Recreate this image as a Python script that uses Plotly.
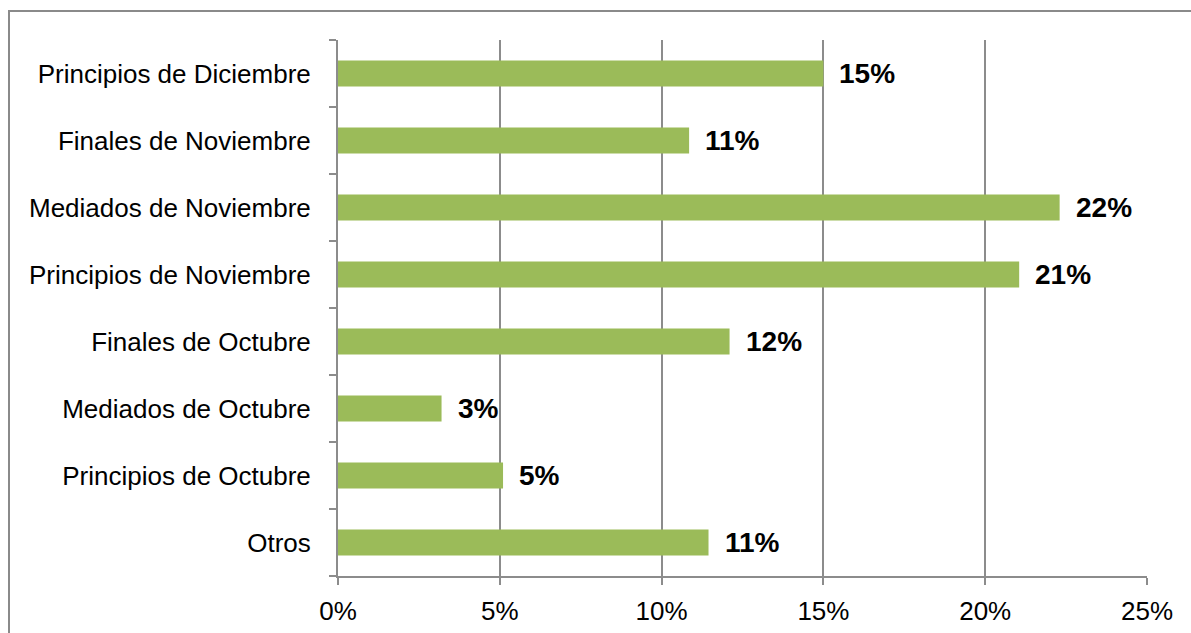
import plotly.graph_objects as go

categories = ["Otros", "Principios de Octubre", "Mediados de Octubre", "Finales de Octubre",
              "Principios de Noviembre", "Mediados de Noviembre", "Finales de Noviembre",
              "Principios de Diciembre"]
values = [0.1145, 0.051, 0.032, 0.121, 0.2105, 0.223, 0.1085, 0.150]
labels = ["11%", "5%", "3%", "12%", "21%", "22%", "11%", "15%"]
x_ticks = [0, 0.05, 0.10, 0.15, 0.20, 0.25]
x_tick_text = ["0%", "5%", "10%", "15%", "20%", "25%"]

W, H = 1191, 633
L, R, T, B = 338, 44, 40, 57
pw, ph = W - L - R, H - T - B
FONT = "Liberation Sans, Arial, sans-serif"
GRID = "#8C8C8C"

fig = go.Figure(go.Bar(
    x=values, y=categories, orientation="h",
    marker=dict(color="#9BBB59", line=dict(width=0)),
    hoverinfo="skip",
))

for v, c, t in zip(values, categories, labels):
    fig.add_annotation(x=v, y=c, text="<b>%s</b>" % t, showarrow=False,
                       xanchor="left", yanchor="middle", xshift=14,
                       font=dict(family=FONT, size=28, color="#000000"))

# outer chart frame
fig.add_shape(type="rect", xref="paper", yref="paper",
              x0=(9 - L) / pw, x1=(W + 20 - L) / pw,
              y0=-(B + 20) / ph, y1=(H - B - 11) / ph,
              line=dict(color="#8A8A8A", width=2), fillcolor="rgba(0,0,0,0)", layer="below")

fig.update_layout(
    width=W, height=H,
    margin=dict(l=L, r=R, t=T, b=B, pad=0, autoexpand=False),
    paper_bgcolor="white", plot_bgcolor="white",
    bargap=0.61, showlegend=False,
    font=dict(family=FONT, size=26, color="#000000"),
    xaxis=dict(range=[0, 0.25], tickvals=x_ticks, ticktext=x_tick_text,
               showgrid=True, gridcolor=GRID, gridwidth=2,
               showline=True, linecolor=GRID, linewidth=2,
               ticks="outside", ticklen=7, tickcolor=GRID, tickwidth=2,
               zeroline=False, fixedrange=True, ticklabelstandoff=4,
               automargin=False, tickfont=dict(size=26)),
    yaxis=dict(categoryorder="array", categoryarray=categories,
               showline=True, linecolor=GRID, linewidth=2,
               ticks="outside", ticklen=7, tickcolor=GRID, tickwidth=2,
               tickson="boundaries", showgrid=False, zeroline=False, fixedrange=True,
               ticklabelstandoff=20, automargin=False,
               tickfont=dict(size=26)),
)

fig.write_html("out.html", config={"displayModeBar": False},
               post_script="document.body.style.margin='0px';document.body.style.overflow='hidden';")
